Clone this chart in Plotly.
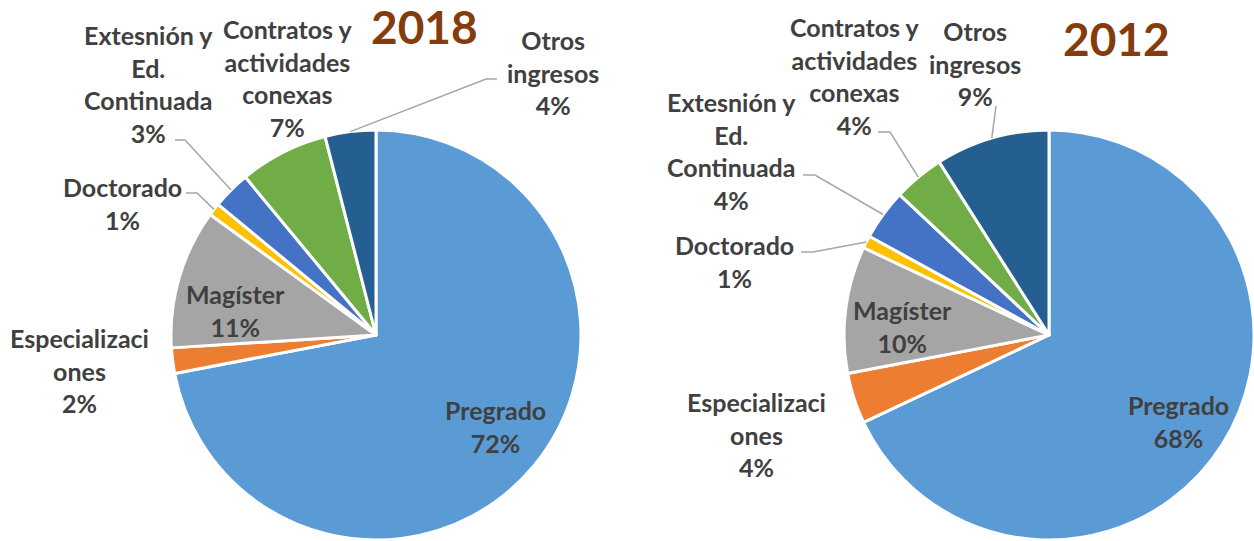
import math
import plotly.graph_objects as go

# ---------------- data ----------------
categories = ["Pregrado", "Especializaciones", "Magíster", "Doctorado",
              "Extesnión y Ed. Continuada", "Contratos y actividades conexas",
              "Otros ingresos"]
label_text = ["Pregrado", "Especializaci<br>ones", "Magíster", "Doctorado",
              "Extesnión y<br>Ed.<br>Continuada", "Contratos y<br>actividades<br>conexas",
              "Otros<br>ingresos"]
values_2018 = [72, 2, 11, 1, 3, 7, 4]
values_2012 = [68, 4, 10, 1, 4, 4, 9]
years = ["2018", "2012"]

colors = ["#5B9BD5", "#ED7D31", "#A5A5A5", "#FFC000", "#4472C4", "#70AD47", "#255E91"]

# ---------------- layout constants (pixels) ----------------
W, H = 1254, 541
R = 205
centers = [(376, 335), (1049, 335)]
title_pos = [(424, 27), (1116, 38)]
label_pos = [
    [(496, 426), (79, 370), (235, 310), (122, 203), (148, 84), (288, 78), (553, 72)],
    [(1178, 421), (757, 434), (902, 326), (734, 261), (731, 151), (855, 76), (975, 64)],
]
# leader line extra points (after the slice edge point), None = no leader
leaders = [
    [None, None, None, [(197, 193), (186, 193)], [(185, 140), (175, 140)], None,
     [(486, 79), (497, 79)]],
    [None, None, None, [(813, 252), (801, 252)], [(815, 175), (803, 175)],
     [(890, 132), (878, 132)], [(996, 106)]],
]

FONT = "Lato, 'Open Sans', sans-serif"
TXT = "#404040"


def px(x):
    return x / W


def py(y):
    return 1 - y / H


fig = go.Figure()
annotations = []
shapes = []

for k, vals in enumerate([values_2018, values_2012]):
    cx, cy = centers[k]
    fig.add_trace(go.Pie(
        labels=categories, values=vals, sort=False, direction="clockwise",
        rotation=0, textinfo="none", hoverinfo="label+percent",
        marker=dict(colors=colors, line=dict(color="white", width=3)),
        domain=dict(x=[px(cx - R), min(1.0, px(cx + R))], y=[py(cy + R), py(cy - R)]),
        showlegend=False,
    ))
    total = sum(vals)
    cum = 0
    for i, v in enumerate(vals):
        pct = round(100 * v / total)
        lx, ly = label_pos[k][i]
        annotations.append(dict(
            x=px(lx), y=py(ly), xref="paper", yref="paper", showarrow=False,
            text=f"<b>{label_text[i]}<br>{pct}%</b>", align="center",
            xanchor="center", yanchor="middle",
            font=dict(family=FONT, size=25, color=TXT),
        ))
        theta = math.radians(360 * (cum + v / 2) / total)
        ex = cx + R * math.sin(theta)
        ey = cy - R * math.cos(theta)
        if leaders[k][i]:
            pts = [(ex, ey)] + leaders[k][i]
            path = "M " + " L ".join(f"{px(a)} {py(b)}" for a, b in pts)
            shapes.append(dict(type="path", path=path, xref="paper", yref="paper",
                               line=dict(color="#A6A6A6", width=1.5)))
        cum += v
    tx, ty = title_pos[k]
    annotations.append(dict(
        x=px(tx), y=py(ty), xref="paper", yref="paper", showarrow=False,
        text=f"<b>{years[k]}</b>", xanchor="center", yanchor="middle",
        font=dict(family=FONT, size=46, color="#843C0C"),
    ))

fig.update_layout(
    width=W, height=H, margin=dict(l=0, r=0, t=0, b=0),
    paper_bgcolor="white", plot_bgcolor="white",
    annotations=annotations, shapes=shapes,
)

fig.write_html("out.html", config={"displayModeBar": False},
               post_script="document.body.style.margin='0';document.body.style.overflow='hidden';")
